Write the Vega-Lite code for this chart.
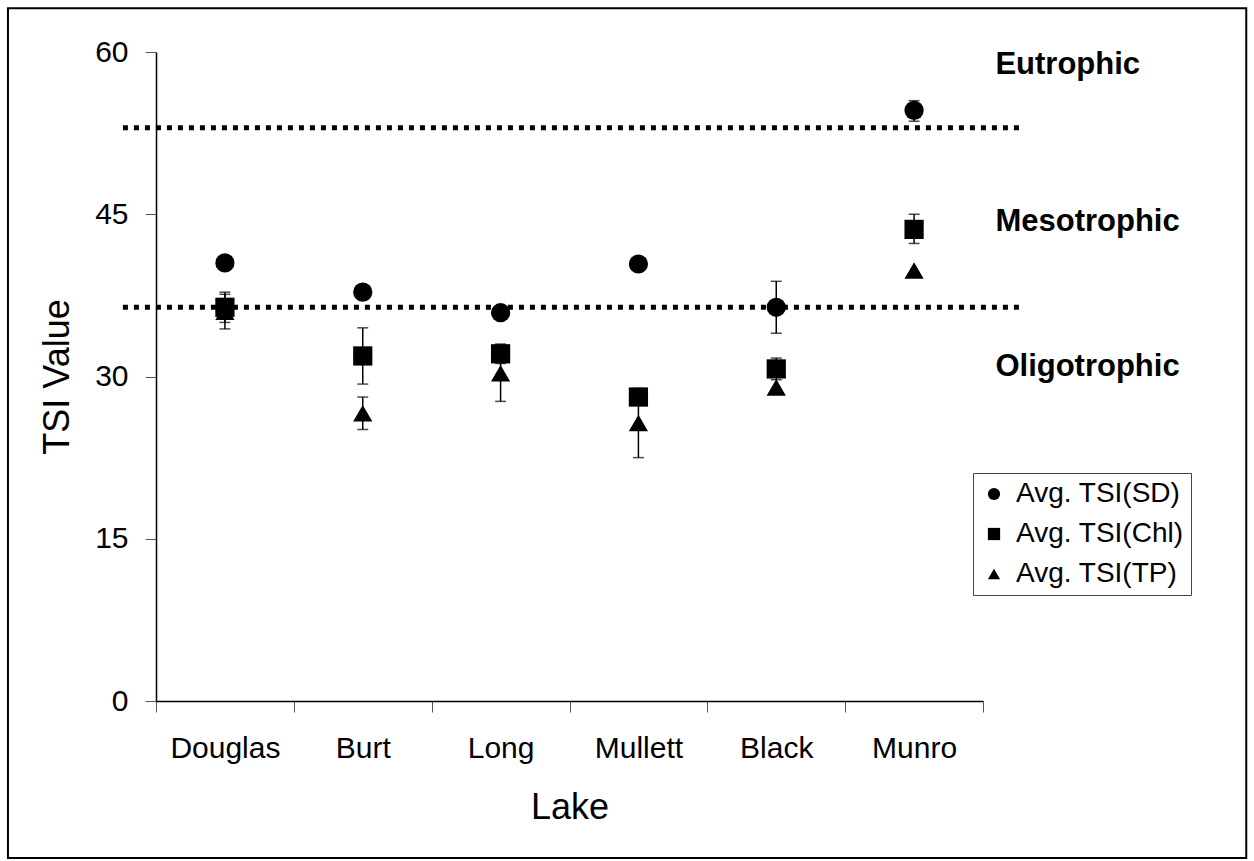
{
  "$schema": "https://vega.github.io/schema/vega-lite/v6.json",
  "width": 827,
  "height": 649,
  "autosize": "none",
  "padding": {"left": 156, "top": 52, "right": 271, "bottom": 160},
  "background": "white",
  "config": {"view": {"stroke": null}, "font": "Liberation Sans"},
  "datasets": {
    "points": [
      {"Lake": "Douglas", "Series": "Avg. TSI(SD)", "TSI": 40.5},
      {"Lake": "Douglas", "Series": "Avg. TSI(Chl)", "TSI": 36.4, "lo": 35.0, "hi": 37.8},
      {"Lake": "Douglas", "Series": "Avg. TSI(TP)", "TSI": 36.0, "lo": 34.4, "hi": 37.6},
      {"Lake": "Burt", "Series": "Avg. TSI(SD)", "TSI": 37.8},
      {"Lake": "Burt", "Series": "Avg. TSI(Chl)", "TSI": 31.9, "lo": 29.3, "hi": 34.5},
      {"Lake": "Burt", "Series": "Avg. TSI(TP)", "TSI": 26.6, "lo": 25.1, "hi": 28.1},
      {"Lake": "Long", "Series": "Avg. TSI(SD)", "TSI": 35.9},
      {"Lake": "Long", "Series": "Avg. TSI(Chl)", "TSI": 32.1, "lo": 31.2, "hi": 33.0},
      {"Lake": "Long", "Series": "Avg. TSI(TP)", "TSI": 30.3, "lo": 27.7, "hi": 32.9},
      {"Lake": "Mullett", "Series": "Avg. TSI(SD)", "TSI": 40.4},
      {"Lake": "Mullett", "Series": "Avg. TSI(Chl)", "TSI": 28.1},
      {"Lake": "Mullett", "Series": "Avg. TSI(TP)", "TSI": 25.7, "lo": 22.5, "hi": 28.9},
      {"Lake": "Black", "Series": "Avg. TSI(SD)", "TSI": 36.4, "lo": 34.0, "hi": 38.8},
      {"Lake": "Black", "Series": "Avg. TSI(Chl)", "TSI": 30.7, "lo": 29.7, "hi": 31.7},
      {"Lake": "Black", "Series": "Avg. TSI(TP)", "TSI": 29.0},
      {"Lake": "Munro", "Series": "Avg. TSI(SD)", "TSI": 54.6, "lo": 53.6, "hi": 55.5},
      {"Lake": "Munro", "Series": "Avg. TSI(Chl)", "TSI": 43.6, "lo": 42.3, "hi": 45.0},
      {"Lake": "Munro", "Series": "Avg. TSI(TP)", "TSI": 39.8}
    ],
    "bounds": [
      {"y": 53.0, "x1": -0.24, "x2": 6.28},
      {"y": 36.4, "x1": -0.24, "x2": 6.28}
    ],
    "labels": [
      {"label": "Eutrophic", "x": 6.09, "y": 58.8},
      {"label": "Mesotrophic", "x": 6.09, "y": 44.3},
      {"label": "Oligotrophic", "x": 6.09, "y": 30.9}
    ],
    "frame": [
      {"x1": -1.074, "x2": 7.91, "y1": -14.51, "y2": 64.05}
    ]
  },
  "layer": [
    {
      "data": {"name": "frame"},
      "mark": {"type": "rect", "fill": null, "stroke": "#000", "strokeWidth": 2},
      "encoding": {
        "x": {"field": "x1", "type": "quantitative", "scale": {"domain": [0, 6], "nice": false, "zero": false}, "axis": null},
        "x2": {"field": "x2"},
        "y": {"field": "y1", "type": "quantitative", "scale": {"domain": [0, 60], "nice": false, "zero": false}, "axis": null},
        "y2": {"field": "y2"}
      }
    },
    {
      "data": {"name": "bounds"},
      "mark": {"type": "rule", "color": "#000", "strokeWidth": 5, "strokeDash": [5, 6], "strokeCap": "butt"},
      "encoding": {
        "x": {"field": "x1", "type": "quantitative", "scale": {"domain": [0, 6], "nice": false, "zero": false}, "axis": null},
        "x2": {"field": "x2"},
        "y": {"field": "y", "type": "quantitative", "scale": {"domain": [0, 60], "nice": false, "zero": false}, "axis": null}
      }
    },
    {
      "data": {"name": "labels"},
      "mark": {"type": "text", "align": "left", "baseline": "middle", "font": "Liberation Sans", "fontSize": 31, "fontWeight": "bold", "color": "#000"},
      "encoding": {
        "x": {"field": "x", "type": "quantitative", "scale": {"domain": [0, 6], "nice": false, "zero": false}, "axis": null},
        "y": {"field": "y", "type": "quantitative", "scale": {"domain": [0, 60], "nice": false, "zero": false}, "axis": null},
        "text": {"field": "label"}
      }
    },
    {
      "data": {"name": "points"},
      "encoding": {
        "x": {
          "field": "Lake", "type": "nominal", "sort": null,
          "scale": {"domain": ["Douglas", "Burt", "Long", "Mullett", "Black", "Munro"], "paddingInner": 0, "paddingOuter": 0},
          "axis": {
            "title": "Lake", "labelAngle": 0, "tickBand": "extent", "tickSize": 11, "tickColor": "#555",
            "domainColor": "#000", "domainWidth": 1.5, "labelFontSize": 30, "labelColor": "#000",
            "labelFont": "Liberation Sans", "labelPadding": 21, "titleFont": "Liberation Sans",
            "titleFontSize": 36, "titleFontWeight": "normal", "titleColor": "#000", "titlePadding": 27, "grid": false
          }
        }
      },
      "layer": [
        {
          "transform": [{"filter": "isValid(datum.lo)"}],
          "mark": {"type": "rule", "color": "#000", "strokeWidth": 1.5},
          "encoding": {
            "y": {"field": "lo", "type": "quantitative", "scale": {"domain": [0, 60], "nice": false, "zero": false}},
            "y2": {"field": "hi"}
          }
        },
        {
          "transform": [{"filter": "isValid(datum.lo)"}],
          "mark": {"type": "tick", "color": "#000", "thickness": 1.5, "size": 11, "orient": "horizontal"},
          "encoding": {
            "y": {"field": "lo", "type": "quantitative", "scale": {"domain": [0, 60], "nice": false, "zero": false}}
          }
        },
        {
          "transform": [{"filter": "isValid(datum.hi)"}],
          "mark": {"type": "tick", "color": "#000", "thickness": 1.5, "size": 11, "orient": "horizontal"},
          "encoding": {
            "y": {"field": "hi", "type": "quantitative", "scale": {"domain": [0, 60], "nice": false, "zero": false}}
          }
        },
        {
          "mark": {"type": "point", "filled": true, "color": "#000", "opacity": 1, "size": 370},
          "encoding": {
            "y": {
              "field": "TSI", "type": "quantitative",
              "scale": {"domain": [0, 60], "nice": false, "zero": false},
              "axis": {
                "title": "TSI Value", "values": [0, 15, 30, 45, 60], "grid": false, "tickSize": 11,
                "tickColor": "#555", "domainColor": "#000", "domainWidth": 1.5, "labelFontSize": 30,
                "labelColor": "#000", "labelFont": "Liberation Sans", "labelPadding": 17,
                "titleFont": "Liberation Sans", "titleFontSize": 36, "titleFontWeight": "normal",
                "titleColor": "#000", "titlePadding": 18
              }
            },
            "shape": {
              "field": "Series", "type": "nominal",
              "scale": {"domain": ["Avg. TSI(SD)", "Avg. TSI(Chl)", "Avg. TSI(TP)"], "range": ["circle", "square", "triangle-up"]},
              "legend": {
                "title": null, "orient": "none", "legendX": 817, "legendY": 421,
                "strokeColor": "#444", "fillColor": "white", "padding": 7,
                "labelFontSize": 28, "labelFont": "Liberation Sans", "labelColor": "#000", "labelLimit": 400,
                "symbolSize": 150, "symbolFillColor": "#000", "symbolStrokeColor": "#000", "symbolStrokeWidth": 0,
                "labelOffset": 8, "rowPadding": 12
              }
            }
          }
        }
      ]
    }
  ],
  "resolve": {"scale": {"x": "independent", "y": "independent"}}
}
